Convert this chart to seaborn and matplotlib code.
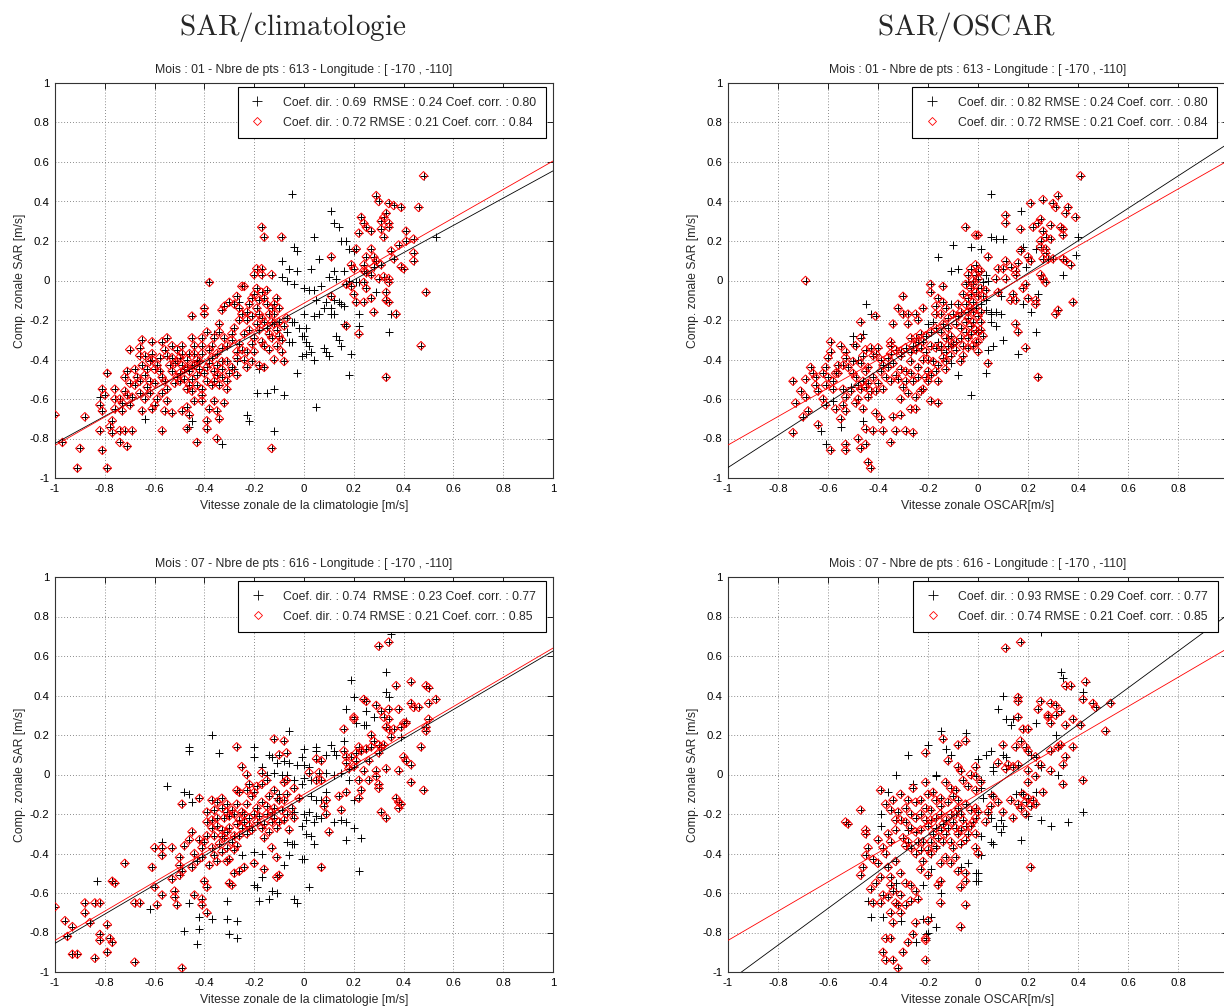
import numpy as np
import pandas as pd
import matplotlib
matplotlib.use("Agg")
import matplotlib.pyplot as plt
from matplotlib.lines import Line2D
import seaborn as sns

sns.set_theme(style="white")
plt.rcParams["font.family"] = ["Liberation Sans", "DejaVu Sans"]
plt.rcParams["axes.unicode_minus"] = False
plt.rcParams["mathtext.fontset"] = "cm"

# ---------------------------------------------------------------------------
# Zonal current comparisons (x: reference product, y: SAR), in m/s.
# "kept" points belong to both series; "rej" points only to the full series.
# ---------------------------------------------------------------------------

# January, climatology
TL_KEPT = [(-1.00,-0.68),(-0.97,-0.82),(-0.88,-0.69),(-0.90,-0.85),(-0.91,-0.95),(-0.79,-0.95),(-0.81,-0.86),(-0.82,-0.76),(-0.81,-0.66),(-0.82,-0.63),(-0.81,-0.55),(-0.79,-0.47),(-0.76,-0.55),(-0.76,-0.65),(-0.77,-0.71),(-0.78,-0.74),(-0.77,-0.77),(-0.74,-0.76),(-0.72,-0.76),(-0.69,-0.76),(-0.74,-0.82),(-0.71,-0.84),(-0.72,-0.56),(-0.71,-0.58),(-0.69,-0.59),(-0.74,-0.60),(-0.73,-0.62),(-0.71,-0.46),(-0.72,-0.49),(-0.70,-0.35),(-0.67,-0.49),(-0.68,-0.53),(-0.66,-0.34),(-0.65,-0.30),(-0.66,-0.38),(-0.64,-0.38),(-0.64,-0.60),(-0.65,-0.66),(-0.63,-0.45),(-0.64,-0.48),(-0.62,-0.51),(-0.60,-0.52),(-0.61,-0.31),(-0.61,-0.37),(-0.61,-0.65),(-0.57,-0.76),(-0.60,-0.63),(-0.59,-0.60),(-0.57,-0.57),(-0.57,-0.31),(-0.55,-0.29),(-0.56,-0.35),(-0.55,-0.38),(-0.54,-0.43),(-0.53,-0.46),(-0.51,-0.49),(-0.50,-0.51),(-0.55,-0.55),(-0.55,-0.61),(-0.56,-0.66),(-0.53,-0.67),(-0.49,-0.33),(-0.49,-0.37),(-0.46,-0.37),(-0.45,-0.29),(-0.44,-0.33),(-0.41,-0.33),(-0.41,-0.37),(-0.43,-0.40),(-0.49,-0.43),(-0.48,-0.45),(-0.46,-0.46),(-0.44,-0.43),(-0.42,-0.45),(-0.50,-0.47),(-0.47,-0.55),(-0.45,-0.56),(-0.43,-0.53),(-0.41,-0.55),(-0.41,-0.58),(-0.49,-0.66),(-0.47,-0.64),(-0.46,-0.68),(-0.44,-0.61),(-0.41,-0.61),(-0.47,-0.75),(-0.43,-0.82),(-0.39,-0.75),(-0.39,-0.71),(-0.38,-0.65),(-0.35,-0.66),(-0.34,-0.70),(-0.35,-0.80),(-0.36,-0.61),(-0.32,-0.62),(-0.39,-0.51),(-0.37,-0.53),(-0.36,-0.51),(-0.33,-0.49),(-0.31,-0.55),(-0.13,-0.85),(-0.18,-0.43),(-0.16,-0.44),(-0.12,-0.40),(-0.08,-0.41),(-0.23,-0.44),(-0.25,-0.35),(-0.23,-0.36),(-0.20,-0.36),(-0.34,-0.22),(-0.34,-0.26),(-0.32,-0.29),(-0.29,-0.27),(-0.29,-0.30),(-0.28,-0.24),(-0.28,-0.12),(-0.26,-0.20),(-0.25,-0.17),(-0.23,-0.16),(-0.23,-0.20),(-0.21,-0.09),(-0.20,-0.07),(-0.19,-0.04),(-0.17,-0.06),(-0.16,-0.09),(-0.15,-0.12),(-0.13,-0.14),(-0.11,-0.09),(-0.12,-0.17),(-0.19,-0.14),(-0.18,-0.17),(-0.17,-0.19),(-0.16,-0.21),(-0.14,-0.17),(-0.13,-0.21),(-0.12,-0.22),(-0.10,-0.21),(-0.08,-0.23),(-0.20,-0.29),(-0.17,-0.31),(-0.16,-0.33),(-0.13,-0.29),(-0.11,-0.33),(-0.09,-0.36),(-0.17,0.27),(-0.16,0.22),(-0.09,0.22),(-0.19,0.06),(-0.17,0.06),(-0.20,0.03),(-0.17,0.03),(-0.13,0.03),(-0.38,-0.01),(-0.25,-0.03),(-0.24,-0.03),(-0.15,-0.05),(-0.27,-0.08),(-0.30,-0.11),(-0.40,-0.14),(-0.40,-0.17),(-0.45,-0.18),(-0.32,-0.13),(-0.33,-0.15),(-0.53,-0.33),(-0.51,-0.35),(-0.47,-0.40),(-0.45,-0.43),(-0.51,-0.41),(-0.53,-0.39),(-0.37,-0.39),(-0.35,-0.43),(-0.33,-0.45),(-0.31,-0.41),(-0.29,-0.44),(-0.27,-0.39),(-0.27,-0.48),(-0.31,-0.51),(-0.36,-0.46),(-0.39,-0.44),(-0.26,-0.32),(-0.24,-0.40),(-0.21,-0.41),(-0.27,-0.36),(-0.39,-0.26),(-0.36,-0.29),(-0.37,-0.33),(-0.33,-0.34),(-0.31,-0.33),(-0.41,-0.29),(-0.59,-0.43),(-0.60,-0.45),(-0.57,-0.49),(-0.65,-0.43),(-0.61,-0.40),
           (-0.22,-0.12),(-0.21,-0.18),(-0.19,-0.22),(-0.18,-0.25),(-0.15,-0.24),(-0.14,-0.27),(-0.11,-0.25),(-0.10,-0.28),(-0.09,-0.30),(-0.12,-0.12),(-0.10,-0.14),(-0.18,-0.10),(-0.22,-0.25),(-0.24,-0.27),(-0.21,-0.32),(-0.14,-0.35),(-0.26,-0.14),(-0.07,-0.19),(-0.52,-0.42),(-0.50,-0.39),(-0.47,-0.44),(-0.45,-0.50),(-0.43,-0.48),(-0.48,-0.50),(-0.52,-0.52),(-0.46,-0.53),(-0.40,-0.47),(-0.38,-0.42),(-0.42,-0.41),(-0.44,-0.37),(-0.38,-0.35),(-0.35,-0.37),(-0.33,-0.41),(-0.35,-0.48),(-0.34,-0.53),(-0.30,-0.47),(-0.68,-0.45),(-0.66,-0.51),(-0.63,-0.54),(-0.70,-0.52),(-0.62,-0.41),(-0.58,-0.39),(-0.58,-0.46),(-0.56,-0.51),(-0.62,-0.57),(-0.66,-0.57),(-0.76,-0.60),(-0.80,-0.58),(-0.73,-0.66),(-0.70,-0.63),
           (0.48,0.53),(0.29,0.43),(0.30,0.40),(0.23,0.32),(0.34,0.39),(0.36,0.38),(0.39,0.37),(0.46,0.37),(0.33,0.34),(0.32,0.32),(0.31,0.30),(0.34,0.29),(0.34,0.27),(0.31,0.26),(0.32,0.22),(0.24,0.29),(0.25,0.27),(0.27,0.25),(0.22,0.24),(0.21,0.16),(0.27,0.16),(0.28,0.12),(0.25,0.12),(0.29,0.10),(0.31,0.08),(0.28,0.07),(0.41,0.25),(0.44,0.21),(0.41,0.20),(0.38,0.18),(0.35,0.15),(0.36,0.11),(0.39,0.07),(0.40,0.06),(0.44,0.14),(0.44,0.10),(0.11,0.12),(0.19,0.08),(0.20,0.06),(0.24,0.08),(0.24,0.05),(0.25,0.04),(0.27,0.03),(0.30,0.01),(0.32,0.02),(0.34,0.01),(0.34,-0.01),(0.24,-0.01),(0.25,-0.04),(0.27,-0.09),(0.24,-0.11),(0.21,-0.11),(0.33,-0.06),(0.33,-0.10),(0.34,-0.11),(0.28,-0.16),(0.17,-0.02),(0.19,-0.03),(0.20,-0.07),(0.11,-0.08),(0.49,-0.06),(0.37,-0.17),(0.17,-0.23),(0.22,-0.27),(0.47,-0.33),(0.33,-0.49)]
TL_REJ = [(-0.82,-0.59),(-0.64,-0.70),(-0.45,-0.71),(-0.46,-0.74),(-0.33,-0.83),(-0.23,-0.68),(-0.22,-0.71),(-0.19,-0.57),(-0.15,-0.57),(-0.12,-0.55),(-0.08,-0.58),(-0.12,-0.76),(-0.03,-0.47),(-0.18,-0.45),(-0.28,-0.45),(-0.27,-0.41),(-0.36,-0.27),(-0.05,0.44),(-0.04,0.17),(-0.03,0.15),(-0.09,0.10),(-0.06,0.06),(-0.03,0.05),(-0.09,0.02),(-0.07,0.00),(-0.04,-0.02),(-0.07,-0.26),(-0.05,-0.21),(-0.04,-0.21),(-0.02,-0.24),(-0.01,-0.28),(-0.06,-0.31),(-0.05,-0.31),(-0.01,-0.38),(-0.26,-0.11),
          (0.11,0.35),(0.12,0.29),(0.14,0.27),(0.04,0.22),(0.15,0.20),(0.17,0.20),(0.18,0.16),(0.20,0.15),(0.06,0.11),(0.03,0.06),(0.12,0.05),(0.13,0.01),(0.10,0.02),(0.16,0.05),(0.18,0.00),(0.21,-0.01),(0.22,-0.01),(0.53,0.22),(0.35,-0.17),(0.29,-0.06),(0.22,-0.17),(0.34,-0.26),(0.22,-0.23),(0.19,-0.37),(0.18,-0.48),(0.05,-0.64),(0.00,-0.04),(0.02,-0.05),(0.04,-0.05),(0.07,-0.03),(0.05,-0.10),(0.08,-0.14),(0.09,-0.11),(0.11,-0.14),(0.12,-0.17),(0.15,-0.12),(0.16,-0.13),(0.11,-0.17),(0.06,-0.17),(0.04,-0.18),(0.00,-0.17),(0.01,-0.24),(0.00,-0.28),(0.01,-0.31),(0.02,-0.33),(0.01,-0.37),(0.03,-0.36),(0.08,-0.34),(0.09,-0.36),(0.10,-0.38),(0.04,-0.40),(0.13,-0.28),(0.14,-0.30),(0.15,-0.33),(0.16,-0.22),(0.14,-0.11),(0.12,-0.10)]

# January, OSCAR
TR_KEPT = [(-0.69,0.00),(-0.05,0.27),(-0.01,0.23),(-0.19,-0.02),(-0.19,-0.06),(-0.14,-0.03),(-0.30,-0.08),(-0.32,-0.14),(-0.30,-0.17),(-0.28,-0.17),(-0.28,-0.22),(-0.25,-0.17),(-0.24,-0.20),(-0.22,-0.14),(-0.17,-0.17),(-0.34,-0.22),(-0.41,-0.18),(-0.47,-0.21),(-0.59,-0.31),(-0.59,-0.36),(-0.55,-0.33),(-0.53,-0.36),(-0.53,-0.39),(-0.54,-0.43),(-0.67,-0.44),(-0.66,-0.47),(-0.65,-0.49),(-0.69,-0.50),(-0.74,-0.51),(-0.71,-0.56),(-0.73,-0.62),(-0.64,-0.56),(-0.69,-0.59),(-0.68,-0.66),(-0.70,-0.69),(-0.64,-0.73),(-0.74,-0.77),(-0.60,-0.39),(-0.61,-0.44),(-0.60,-0.49),(-0.61,-0.53),(-0.62,-0.60),(-0.61,-0.63),(-0.58,-0.51),(-0.57,-0.47),(-0.56,-0.43),(-0.54,-0.55),(-0.54,-0.63),(-0.53,-0.66),(-0.57,-0.65),(-0.55,-0.70),(-0.59,-0.86),(-0.53,-0.83),(-0.53,-0.86),(-0.48,-0.80),(-0.47,-0.85),(-0.45,-0.83),(-0.45,-0.75),(-0.46,-0.65),(-0.44,-0.92),(-0.43,-0.95),(-0.42,-0.76),(-0.41,-0.67),(-0.39,-0.70),(-0.38,-0.76),(-0.35,-0.82),(-0.34,-0.69),(-0.33,-0.76),(-0.31,-0.68),(-0.29,-0.76),(-0.26,-0.77),(-0.27,-0.65),(-0.25,-0.65),(-0.23,-0.56),(-0.25,-0.59),(-0.19,-0.61),(-0.16,-0.62),(-0.31,-0.60),
           (-0.52,-0.44),(-0.50,-0.47),(-0.49,-0.49),(-0.47,-0.42),(-0.45,-0.46),(-0.44,-0.52),(-0.43,-0.56),(-0.41,-0.56),(-0.44,-0.59),(-0.51,-0.56),(-0.48,-0.53),(-0.47,-0.55),(-0.45,-0.54),(-0.53,-0.59),(-0.49,-0.62),(-0.48,-0.60),(-0.49,-0.33),(-0.47,-0.29),(-0.46,-0.38),(-0.45,-0.35),(-0.43,-0.34),(-0.41,-0.37),(-0.40,-0.34),(-0.39,-0.40),(-0.38,-0.43),(-0.36,-0.39),(-0.35,-0.37),(-0.33,-0.35),(-0.31,-0.38),(-0.35,-0.31),(-0.35,-0.33),(-0.39,-0.46),(-0.37,-0.49),(-0.35,-0.51),(-0.33,-0.48),(-0.31,-0.45),(-0.29,-0.46),(-0.29,-0.51),(-0.30,-0.54),(-0.28,-0.57),(-0.26,-0.51),(-0.24,-0.49),(-0.21,-0.49),(-0.20,-0.46),(-0.19,-0.48),(-0.17,-0.46),(-0.16,-0.51),(-0.20,-0.51),(-0.22,-0.55),
           (-0.31,-0.36),(-0.29,-0.34),(-0.27,-0.36),(-0.26,-0.33),(-0.25,-0.35),(-0.23,-0.34),(-0.21,-0.36),(-0.19,-0.33),(-0.17,-0.34),(-0.15,-0.33),(-0.13,-0.36),(-0.12,-0.33),(-0.10,-0.32),(-0.27,-0.29),(-0.25,-0.29),(-0.23,-0.27),(-0.21,-0.28),(-0.19,-0.26),(-0.17,-0.24),(-0.15,-0.26),(-0.13,-0.29),(-0.20,-0.40),(-0.18,-0.41),(-0.16,-0.43),(-0.13,-0.45),(-0.13,-0.41),(-0.11,-0.38),(-0.16,-0.09),(-0.14,-0.11),(-0.13,-0.14),(-0.17,-0.13),(-0.15,-0.17),(-0.12,-0.19),(-0.10,-0.17),(-0.08,-0.18),(-0.07,-0.16),(-0.08,-0.12),(-0.09,-0.22),(-0.07,-0.24),(-0.05,-0.26),(-0.04,-0.29),(-0.03,-0.23),(-0.01,-0.25),(-0.01,-0.31),(-0.04,-0.19),(-0.02,-0.16),(-0.05,-0.12),(-0.03,-0.07),(-0.01,-0.06),(-0.02,-0.02),(-0.01,0.03),(-0.03,0.06),(-0.04,0.03),(-0.01,0.08),(-0.06,-0.38),(-0.07,-0.41),(-0.02,-0.11),(0.00,-0.18),(-0.03,-0.14),(0.01,-0.21),(-0.02,-0.33),(0.00,-0.36),
           (-0.04,-0.09),(-0.03,-0.04),(0.00,-0.08),(-0.02,0.00),(0.00,0.05),(-0.05,-0.02),(-0.06,-0.07),(-0.01,-0.14),(-0.04,-0.16),(-0.02,-0.21),(-0.05,-0.21),(-0.03,-0.27),(0.00,-0.26),(-0.04,-0.34),(-0.07,-0.29),(-0.06,-0.33),(-0.09,-0.31),(-0.12,-0.24),(-0.11,-0.28),(-0.14,-0.22),(-0.44,-0.44),(-0.42,-0.49),(-0.40,-0.52),(-0.42,-0.38),(-0.38,-0.55),(-0.36,-0.44),(-0.34,-0.42),(-0.32,-0.50),(-0.46,-0.51),(-0.50,-0.41),(-0.56,-0.47),(-0.58,-0.55),(-0.62,-0.47),(-0.65,-0.53),(-0.27,-0.41),(-0.24,-0.44),(-0.22,-0.40),(-0.24,-0.31),(-0.22,-0.31),(-0.14,-0.39),(-0.09,-0.35),(-0.27,-0.47),(0.02,-0.08),(0.01,-0.16),(0.02,-0.28),
           (0.41,0.53),(0.32,0.43),(0.21,0.39),(0.26,0.41),(0.30,0.39),(0.31,0.37),(0.36,0.37),(0.35,0.34),(0.39,0.32),(0.25,0.31),(0.24,0.29),(0.22,0.27),(0.29,0.28),(0.33,0.27),(0.34,0.26),(0.34,0.23),(0.26,0.25),(0.27,0.22),(0.29,0.21),(0.11,0.33),(0.11,0.29),(0.17,0.26),(0.00,0.23),(0.25,0.20),(0.25,0.17),(0.27,0.16),(0.27,0.14),(0.28,0.11),(0.26,0.11),(0.30,0.11),(0.34,0.11),(0.35,0.10),(0.37,0.08),(0.20,0.12),(0.21,0.10),(0.17,0.15),(0.16,0.09),(0.13,0.07),(0.11,0.10),(0.10,0.06),(0.04,0.12),(0.08,0.06),(0.07,0.01),(0.11,0.01),(0.15,0.03),(0.15,0.05),(0.25,0.03),(0.26,0.01),(0.27,-0.01),(0.19,-0.02),(0.18,-0.04),(0.08,-0.06),(0.14,-0.07),(0.13,-0.10),(0.15,-0.10),(0.20,-0.09),(0.23,-0.10),(0.23,-0.12),(0.38,-0.11),(0.31,-0.17),(0.32,-0.15),(0.15,-0.22),(0.16,-0.26),(0.19,-0.34),(0.04,-0.42),(0.24,-0.49),(0.01,0.05),(0.00,0.01),(0.01,-0.04),(0.03,-0.05),(0.01,-0.25),(0.00,-0.31)]
TR_REJ = [(-0.10,0.18),(-0.03,0.17),(-0.16,0.12),(-0.11,0.05),(-0.08,0.06),(-0.04,-0.01),(-0.11,-0.12),(-0.45,-0.12),(-0.43,-0.17),(-0.50,-0.28),(-0.46,-0.27),(-0.50,-0.32),(-0.48,-0.40),(-0.57,-0.46),(-0.51,-0.54),(-0.58,-0.61),(-0.63,-0.76),(-0.61,-0.83),(-0.55,-0.74),(-0.46,-0.71),(-0.08,-0.48),(-0.03,-0.58),(-0.11,-0.42),(-0.16,-0.31),(-0.15,-0.35),(-0.20,-0.22),(-0.18,-0.21),(-0.12,-0.29),(-0.11,-0.33),
          (0.05,0.44),(0.17,0.35),(0.05,0.22),(0.07,0.21),(0.10,0.21),(0.01,0.16),(0.18,0.17),(0.17,0.16),(0.23,0.16),(0.40,0.22),(0.39,0.13),(0.19,0.07),(0.03,0.03),(0.04,0.00),(0.02,-0.01),(0.00,-0.04),(0.09,-0.08),(0.18,-0.12),(0.24,-0.07),(0.21,-0.16),(0.34,0.03),(0.05,-0.16),(0.07,-0.16),(0.09,-0.17),(0.05,-0.17),(0.03,-0.15),(0.05,-0.21),(0.07,-0.23),(0.23,-0.26),(0.10,-0.30),(0.06,-0.33),(0.04,-0.35),(0.16,-0.37),(0.03,-0.47),(0.01,-0.12),(0.03,-0.10)]

# July, climatology
BL_KEPT = [(-1.00,-0.67),(-0.96,-0.74),(-0.95,-0.82),(-0.93,-0.77),(-0.93,-0.91),(-0.91,-0.91),(-0.88,-0.65),(-0.88,-0.70),(-0.86,-0.75),(-0.84,-0.65),(-0.82,-0.65),(-0.84,-0.93),(-0.82,-0.81),(-0.82,-0.84),(-0.79,-0.76),(-0.78,-0.83),(-0.77,-0.85),(-0.79,-0.90),(-0.77,-0.54),(-0.76,-0.55),(-0.72,-0.45),(-0.68,-0.95),(-0.68,-0.65),(-0.66,-0.65),(-0.61,-0.47),(-0.60,-0.37),(-0.60,-0.57),(-0.59,-0.66),(-0.57,-0.37),(-0.57,-0.41),(-0.57,-0.61),(-0.53,-0.37),(-0.53,-0.53),(-0.52,-0.59),(-0.52,-0.62),(-0.51,-0.66),(-0.50,-0.42),(-0.50,-0.46),(-0.49,-0.49),(-0.50,-0.51),(-0.49,-0.15),(-0.49,-0.98),(-0.48,-0.36),(-0.46,-0.33),(-0.45,-0.29),(-0.44,-0.61),(-0.41,-0.63),(-0.41,-0.66),(-0.39,-0.70),(-0.42,-0.12),(-0.40,-0.54),(-0.39,-0.57),
           (-0.44,-0.40),(-0.43,-0.44),(-0.45,-0.47),(-0.41,-0.37),(-0.40,-0.34),(-0.39,-0.31),(-0.37,-0.27),(-0.36,-0.31),(-0.37,-0.37),(-0.36,-0.41),(-0.39,-0.19),(-0.39,-0.24),(-0.37,-0.23),(-0.35,-0.26),(-0.33,-0.28),(-0.32,-0.32),(-0.34,-0.35),(-0.33,-0.39),(-0.31,-0.37),(-0.29,-0.34),(-0.28,-0.31),(-0.27,-0.36),(-0.30,-0.43),(-0.31,-0.44),(-0.37,-0.13),(-0.35,-0.14),(-0.33,-0.17),(-0.33,-0.12),(-0.31,-0.15),(-0.29,-0.18),(-0.27,-0.15),(-0.28,-0.20),(-0.26,-0.23),(-0.25,-0.19),(-0.27,-0.08),(-0.26,-0.09),(-0.23,-0.08),(-0.21,-0.11),(-0.20,-0.09),(-0.23,-0.15),(-0.24,-0.20),(-0.22,-0.22),(-0.20,-0.20),(-0.19,-0.24),(-0.17,-0.27),(-0.21,-0.28),(-0.23,-0.30),
           (-0.25,0.04),(-0.23,0.00),(-0.22,-0.05),(-0.17,0.01),(-0.17,-0.05),(-0.12,0.18),(-0.08,0.17),(-0.07,0.11),(-0.10,0.10),(-0.08,-0.04),(-0.07,-0.10),(-0.08,-0.13),(-0.09,-0.18),(-0.12,-0.17),(-0.15,-0.20),(-0.13,-0.24),(-0.11,-0.27),(-0.14,-0.29),(-0.16,-0.32),(-0.08,-0.23),(-0.07,-0.20),(-0.27,0.14),(-0.16,-0.48),(-0.20,-0.45),(-0.24,-0.47),(-0.26,-0.49),(-0.28,-0.50),(-0.30,-0.55),(-0.29,-0.56),(-0.11,-0.52),(-0.10,-0.51),(-0.13,-0.37),(-0.11,-0.42),(-0.07,-0.03),(-0.04,-0.07),(-0.02,-0.12),
           (-0.30,-0.21),(-0.30,-0.27),(-0.27,-0.25),(-0.25,-0.27),(-0.24,-0.24),(-0.22,-0.26),(-0.19,-0.17),(-0.17,-0.14),(-0.15,-0.16),(-0.13,-0.19),(-0.12,-0.22),(-0.10,-0.24),(-0.18,-0.21),(-0.16,-0.25),(-0.14,-0.11),(-0.12,-0.08),(-0.10,-0.13),(-0.19,-0.06),(-0.15,-0.03),(-0.05,-0.17),(-0.04,-0.22),(-0.06,-0.28),(-0.42,-0.33),(-0.41,-0.42),(-0.38,-0.46),(-0.35,-0.44),(-0.33,-0.31),(-0.31,-0.29),(-0.35,-0.22),(-0.32,-0.22),(-0.36,-0.18),(-0.31,-0.19),(-0.26,-0.31),(-0.28,-0.38),
           (0.30,0.65),(0.34,0.67),(0.37,0.45),(0.43,0.47),(0.49,0.45),(0.50,0.44),(0.53,0.38),(0.24,0.38),(0.25,0.37),(0.29,0.35),(0.31,0.32),(0.34,0.33),(0.38,0.33),(0.43,0.36),(0.44,0.34),(0.46,0.34),(0.50,0.36),(0.20,0.29),(0.20,0.28),(0.16,0.23),(0.32,0.29),(0.34,0.28),(0.33,0.24),(0.34,0.23),(0.39,0.24),(0.40,0.26),(0.41,0.26),(0.50,0.28),(0.49,0.24),(0.49,0.22),(0.47,0.14),(0.28,0.17),(0.30,0.15),(0.31,0.14),(0.32,0.15),(0.30,0.11),(0.27,0.14),(0.25,0.13),(0.23,0.12),(0.22,0.14),(0.21,0.11),(0.05,0.08),(0.07,0.07),(0.05,-0.03),(0.07,-0.03),(0.17,0.09),(0.17,0.06),(0.18,0.03),(0.21,0.07),(0.20,0.04),(0.29,0.02),(0.29,-0.01),(0.26,-0.03),(0.30,-0.05),(0.30,-0.07),(0.22,-0.03),(0.23,-0.08),(0.22,-0.12),(0.40,0.09),(0.41,0.07),(0.43,0.05),(0.38,0.02),(0.43,-0.04),(0.48,-0.08),(0.37,-0.12),(0.38,-0.14),(0.39,-0.15),(0.38,-0.17),(0.31,-0.19),(0.33,-0.22),(0.17,-0.09),(0.14,-0.11),(0.09,-0.13),(0.08,-0.16),(0.09,-0.20),(0.10,-0.29),(0.15,-0.18),(0.07,-0.47),(0.06,0.01),(0.02,0.01),
           (0.16,0.12),(0.19,0.09),(0.26,0.07),(0.24,0.02),(0.33,0.03),(0.35,0.19),(0.27,0.20),(0.36,0.23)]
BL_REJ = [(-0.83,-0.54),(-0.62,-0.68),(-0.57,-0.34),(-0.55,-0.06),(-0.48,-0.09),(-0.46,-0.10),(-0.45,-0.14),(-0.46,0.14),(-0.46,0.12),(-0.37,0.20),(-0.34,0.11),(-0.48,-0.79),(-0.43,-0.86),(-0.42,-0.72),(-0.42,-0.78),(-0.46,-0.65),(-0.37,-0.73),(-0.31,-0.73),(-0.31,-0.64),(-0.30,-0.81),(-0.27,-0.74),(-0.27,-0.83),(-0.25,-0.41),(-0.20,-0.56),(-0.19,-0.57),(-0.18,-0.64),(-0.17,-0.52),(-0.14,-0.63),(-0.13,-0.59),(-0.11,-0.60),(-0.04,-0.63),(-0.03,-0.65),(-0.08,-0.46),(-0.06,-0.41),(-0.04,-0.35),(-0.01,-0.43),(-0.01,-0.26),(-0.06,0.22),(-0.20,0.14),(-0.20,0.09),(-0.14,0.10),(-0.13,0.09),(-0.17,0.04),(-0.15,0.00),(-0.11,0.06),(-0.12,0.01),(-0.09,0.00),(-0.07,0.00),(-0.08,0.07),(-0.06,0.06),(-0.03,0.05),(-0.01,0.09),(-0.04,-0.03),(-0.01,-0.05),(-0.11,-0.12),(-0.10,-0.10),(-0.05,-0.20),(-0.04,-0.19),(-0.20,-0.39),(-0.17,-0.40),(-0.07,-0.34),(-0.05,-0.35),
          (0.35,0.71),(0.33,0.52),(0.19,0.48),(0.20,0.39),(0.33,0.42),(0.34,0.39),(0.17,0.33),(0.25,0.32),(0.28,0.29),(0.21,0.26),(0.24,0.25),(0.25,0.25),(0.16,0.17),(0.11,0.15),(0.12,0.12),(0.05,0.14),(0.05,0.12),(0.09,0.10),(0.13,0.10),(0.00,0.13),(0.00,0.05),(0.02,0.04),(0.00,-0.02),(0.03,-0.03),(0.09,0.01),(0.12,0.00),(0.15,0.01),(0.18,-0.03),(0.09,-0.09),(0.07,-0.13),(0.05,-0.13),(0.03,-0.11),(0.20,-0.13),(0.02,-0.19),(0.00,-0.20),(0.01,-0.23),(0.04,-0.24),(0.05,-0.21),(0.07,-0.22),(0.12,-0.24),(0.15,-0.23),(0.17,-0.24),(0.20,-0.27),(0.23,-0.32),(0.17,-0.33),(0.03,-0.31),(0.04,-0.35),(0.01,-0.30),(0.00,-0.43),(0.22,-0.49),(0.02,-0.57),(0.39,0.19),(0.41,0.27)]

# July, OSCAR
BR_KEPT = [(-0.53,-0.24),(-0.52,-0.25),(-0.47,-0.18),(-0.45,-0.28),(-0.45,-0.30),(-0.44,-0.37),(-0.45,-0.41),(-0.46,-0.47),(-0.47,-0.51),(-0.43,-0.58),(-0.42,-0.65),(-0.40,-0.33),(-0.42,-0.43),(-0.39,-0.08),(-0.37,-0.15),(-0.35,-0.18),(-0.33,-0.23),(-0.36,-0.30),(-0.35,-0.34),(-0.38,-0.37),(-0.37,-0.40),(-0.39,-0.52),(-0.38,-0.61),(-0.39,-0.65),(-0.35,-0.52),(-0.35,-0.56),(-0.34,-0.59),(-0.35,-0.70),(-0.34,-0.75),(-0.33,-0.65),(-0.32,-0.66),(-0.37,-0.83),(-0.35,-0.83),(-0.38,-0.90),(-0.37,-0.94),(-0.34,-0.94),(-0.32,-0.98),(-0.30,-0.90),(-0.28,-0.85),(-0.26,-0.81),(-0.25,-0.75),(-0.21,-0.83),(-0.21,-0.84),(-0.21,-0.94),(-0.20,-0.74),(-0.31,-0.61),(-0.29,-0.66),(-0.27,-0.56),(-0.25,-0.59),(-0.24,-0.63),(-0.27,-0.64),(-0.20,-0.51),(-0.16,-0.56),(-0.15,-0.65),(-0.15,-0.54),(-0.07,-0.77),(-0.05,-0.66),(-0.07,-0.57),(-0.05,-0.54),(-0.05,-0.50),(-0.08,-0.49),
           (-0.30,-0.32),(-0.28,-0.34),(-0.27,-0.37),(-0.25,-0.40),(-0.23,-0.38),(-0.22,-0.34),(-0.20,-0.38),(-0.19,-0.40),(-0.17,-0.37),(-0.31,-0.10),(-0.28,-0.13),(-0.26,-0.07),(-0.23,-0.13),(-0.21,-0.04),(-0.20,-0.10),(-0.18,-0.09),(-0.17,-0.13),(-0.15,-0.12),(-0.31,-0.23),(-0.29,-0.24),(-0.27,-0.27),(-0.25,-0.29),(-0.23,-0.28),(-0.21,-0.23),(-0.20,-0.26),(-0.18,-0.30),(-0.16,-0.32),(-0.15,-0.28),(-0.13,-0.30),(-0.11,-0.34),(-0.09,-0.27),(-0.08,-0.30),(-0.07,-0.28),(-0.05,-0.33),(-0.04,-0.30),(-0.03,-0.26),(-0.01,-0.30),(-0.19,-0.18),(-0.17,-0.22),(-0.15,-0.20),(-0.13,-0.23),(-0.11,-0.20),(-0.08,-0.17),(-0.07,-0.20),(-0.05,-0.15),(-0.03,-0.18),(-0.01,-0.17),(-0.01,-0.22),(-0.21,0.11),(-0.14,0.18),(-0.08,0.15),(-0.05,0.17),(-0.12,0.07),(-0.08,0.04),(-0.07,0.02),(-0.03,0.00),(-0.01,0.04),(-0.13,-0.04),(-0.11,-0.07),(-0.09,-0.08),(-0.06,-0.03),(-0.04,-0.06),(-0.01,-0.08),(-0.15,-0.45),(-0.13,-0.42),(-0.11,-0.45),(-0.09,-0.42),
           (-0.29,-0.17),(-0.27,-0.20),(-0.25,-0.22),(-0.23,-0.20),(-0.21,-0.17),(-0.19,-0.23),(-0.17,-0.27),(-0.14,-0.25),(-0.12,-0.27),(-0.10,-0.24),(-0.09,-0.20),(-0.06,-0.23),(-0.05,-0.26),(-0.02,-0.24),(-0.12,-0.14),(-0.10,-0.11),(-0.08,-0.13),(-0.15,-0.16),(-0.25,-0.14),(-0.33,-0.28),(-0.32,-0.19),(-0.34,-0.13),(-0.29,-0.36),(-0.24,-0.34),(-0.19,-0.34),(-0.14,-0.34),(-0.10,-0.37),(-0.07,-0.35),(-0.36,-0.47),(-0.33,-0.44),(-0.31,-0.50),(-0.29,-0.55),(-0.36,-0.62),(-0.31,-0.70),(-0.41,-0.55),(-0.40,-0.45),(-0.23,-0.48),(-0.22,-0.44),(0.06,-0.11),(0.08,-0.14),(0.10,-0.19),(0.03,-0.24),
           (0.11,0.64),(0.17,0.67),(0.16,0.39),(0.16,0.37),(0.25,0.37),(0.24,0.33),(0.29,0.36),(0.31,0.35),(0.33,0.32),(0.31,0.30),(0.28,0.29),(0.29,0.26),(0.28,0.30),(0.35,0.25),(0.35,0.45),(0.37,0.45),(0.43,0.47),(0.42,0.38),(0.46,0.36),(0.47,0.34),(0.53,0.36),(0.38,0.28),(0.41,0.25),(0.51,0.22),(0.16,0.29),(0.18,0.23),(0.20,0.23),(0.10,0.15),(0.17,0.17),(0.19,0.14),(0.20,0.12),(0.15,0.14),(0.33,0.15),(0.32,0.14),(0.29,0.12),(0.35,0.09),(0.34,0.05),(0.38,0.14),(0.23,0.09),(0.25,0.05),(0.29,0.02),(0.08,0.06),(0.12,0.05),(0.11,0.03),(0.14,0.04),(0.16,0.05),(0.20,0.02),(0.23,-0.01),(0.20,-0.04),(0.34,-0.05),(0.42,-0.03),(0.13,-0.13),(0.16,-0.15),(0.17,-0.17),(0.18,-0.10),(0.20,-0.12),(0.22,-0.13),(0.23,-0.15),(0.21,-0.16),(0.19,-0.14),(0.26,-0.09),(0.14,-0.22),(0.19,-0.20),(0.05,-0.16),(0.04,-0.19),(0.00,-0.19),(-0.01,-0.37),(0.00,-0.40),(0.21,-0.47),(-0.01,-0.01),(0.01,-0.04)]
BR_REJ = [(-0.15,0.22),(-0.05,0.21),(-0.20,0.15),(-0.13,0.13),(-0.11,0.10),(-0.28,0.10),(-0.33,0.00),(-0.17,0.00),(-0.17,-0.01),(-0.26,-0.05),(-0.36,-0.09),(-0.39,-0.20),(-0.39,-0.26),(-0.44,-0.64),(-0.43,-0.72),(-0.38,-0.72),(-0.33,-0.55),(-0.33,-0.59),(-0.31,-0.74),(-0.22,-0.56),(-0.19,-0.48),(-0.22,-0.73),(-0.19,-0.72),(-0.17,-0.77),(-0.25,-0.85),(-0.21,-0.81),(-0.20,-0.80),(-0.15,-0.60),(-0.07,-0.47),(-0.04,-0.45),(-0.01,-0.50),(-0.01,-0.54),(-0.28,-0.28),(-0.17,-0.36),
          (0.25,0.72),(0.33,0.52),(0.34,0.49),(0.42,0.42),(0.10,0.40),(0.08,0.33),(0.11,0.28),(0.13,0.25),(0.14,0.28),(0.23,0.26),(0.31,0.20),(0.05,0.12),(0.03,0.10),(0.00,0.08),(0.10,0.10),(0.11,0.09),(0.06,0.04),(0.06,0.02),(0.21,0.10),(0.24,0.05),(0.25,0.04),(0.32,0.00),(0.15,-0.10),(0.17,-0.09),(0.23,-0.09),(0.01,-0.03),(0.01,-0.07),(0.05,-0.10),(0.02,-0.12),(0.04,-0.20),(0.05,-0.22),(0.09,-0.23),(0.07,-0.26),(0.10,-0.26),(0.09,-0.29),(0.20,-0.21),(0.25,-0.23),(0.29,-0.26),(0.36,-0.24),(0.42,-0.19),(0.17,-0.33),(0.01,-0.31),(0.05,-0.34),(0.06,-0.35),(0.01,-0.41),(0.00,-0.50),(0.00,-0.54)]

# Linear fits: (slope, intercept) for all points and for the kept subset
FIT_ALL  = {"TL": (0.69, -0.135), "TR": (0.82, -0.127), "BL": (0.74, -0.115), "BR": (0.93, -0.120)}
FIT_KEPT = {"TL": (0.72, -0.115), "TR": (0.72, -0.113), "BL": (0.74, -0.100), "BR": (0.74, -0.100)}
# Statistics shown in the legends: (RMSE, correlation)
STATS_ALL  = {"TL": (0.24, 0.80), "TR": (0.24, 0.80), "BL": (0.23, 0.77), "BR": (0.29, 0.77)}
STATS_KEPT = {"TL": (0.21, 0.84), "TR": (0.21, 0.84), "BL": (0.21, 0.85), "BR": (0.21, 0.85)}

MONTHS = {"TL": ("01", 613), "TR": ("01", 613), "BL": ("07", 616), "BR": ("07", 616)}
XLABELS = {"TL": "Vitesse zonale de la climatologie [m/s]", "BL": "Vitesse zonale de la climatologie [m/s]",
           "TR": "Vitesse zonale OSCAR[m/s]", "BR": "Vitesse zonale OSCAR[m/s]"}
YLABEL = "Comp. zonale SAR [m/s]"
TICKS = [-1, -0.8, -0.6, -0.4, -0.2, 0, 0.2, 0.4, 0.6, 0.8, 1]
TICKLABELS = ["-1", "-0.8", "-0.6", "-0.4", "-0.2", "0", "0.2", "0.4", "0.6", "0.8", "1"]
DATA = {"TL": (TL_KEPT, TL_REJ), "TR": (TR_KEPT, TR_REJ), "BL": (BL_KEPT, BL_REJ), "BR": (BR_KEPT, BR_REJ)}

W, H = 1224, 1008
fig = plt.figure(figsize=(W / 100, H / 100), dpi=100)
fig.patch.set_facecolor("white")

# axes boxes in pixels: left, top, width, height
BOXES = {"TL": (55, 83, 498, 395), "TR": (728, 83, 500, 395),
         "BL": (55, 577, 498, 395), "BR": (728, 577, 500, 395)}
LEG_ANCHOR = {"TL": (0.986, 0.99), "BL": (0.986, 0.99), "TR": (0.978, 0.99), "BR": (0.98, 0.99)}
TXT = 8.8

for key, (l, t, w, h) in BOXES.items():
    ax = fig.add_axes([l / W, 1 - (t + h) / H, w / W, h / H])
    kept, rej = DATA[key]
    all_pts = pd.DataFrame(kept + rej, columns=["x", "y"])
    kept_pts = pd.DataFrame(kept, columns=["x", "y"])

    sns.scatterplot(data=all_pts, x="x", y="y", ax=ax, marker="+", color="black",
                    s=40, linewidth=0.7, legend=False, zorder=3)
    sns.scatterplot(data=kept_pts, x="x", y="y", ax=ax, marker="D", color="red",
                    facecolor="none", edgecolor="red", s=19, linewidth=0.7,
                    legend=False, zorder=4)

    xs = np.array([-1.0, 1.0])
    a, b = FIT_ALL[key]
    sns.lineplot(x=xs, y=a * xs + b, ax=ax, color="black", linewidth=0.6,
                 estimator=None, zorder=5)
    a2, b2 = FIT_KEPT[key]
    sns.lineplot(x=xs, y=a2 * xs + b2, ax=ax, color="red", linewidth=0.6,
                 estimator=None, zorder=5)

    ax.set_xlim(-1, 1)
    ax.set_ylim(-1, 1)
    xlabels = list(TICKLABELS)
    if key in ("TR", "BR"):
        xlabels[-1] = ""  # the right-most label falls outside the figure
    ax.set_xticks(TICKS)
    ax.set_xticklabels(xlabels)
    ax.set_yticks(TICKS)
    ax.set_yticklabels(TICKLABELS)
    ax.tick_params(direction="in", top=True, right=True, length=4, width=0.6,
                   labelsize=8.2, pad=4, colors="black")
    ax.grid(True, linestyle=(0, (1, 2.5)), color="#666666", linewidth=0.6)
    for sp in ax.spines.values():
        sp.set_color("#333333")
        sp.set_linewidth(0.8)
    ax.set_facecolor("white")

    month, npts = MONTHS[key]
    ax.set_title(f"Mois : {month} - Nbre de pts : {npts} - Longitude : [ -170 , -110]",
                 fontsize=TXT, pad=7)
    ax.set_xlabel(XLABELS[key], fontsize=TXT, labelpad=5)
    ax.set_ylabel(YLABEL, fontsize=TXT, labelpad=3)

    gap = "  " if key in ("TL", "BL") else " "
    r1, c1 = STATS_ALL[key]
    r2, c2 = STATS_KEPT[key]
    labels = [f"Coef. dir. : {a:.2f}{gap}RMSE : {r1:.2f} Coef. corr. : {c1:.2f}",
              f"Coef. dir. : {a2:.2f} RMSE : {r2:.2f} Coef. corr. : {c2:.2f}"]
    handles = [Line2D([], [], linestyle="none", marker="+", color="black",
                      markersize=7, markeredgewidth=0.6),
               Line2D([], [], linestyle="none", marker="D", markerfacecolor="none",
                      markeredgecolor="red", markersize=4.5, markeredgewidth=0.6)]
    leg = ax.legend(handles, labels, loc="upper right", bbox_to_anchor=LEG_ANCHOR[key],
                    fontsize=TXT, frameon=True, fancybox=False, framealpha=1,
                    edgecolor="black", borderpad=0.8, handlelength=1.6,
                    handletextpad=1.3, labelspacing=0.65, borderaxespad=0)
    leg.get_frame().set_linewidth(0.8)
    leg.set_zorder(10)

fig.text(293 / W, 1 - 27 / H, r"$\mathrm{SAR/climatologie}$", fontsize=21,
         ha="center", va="center")
fig.text(967 / W, 1 - 27 / H, r"$\mathrm{SAR/OSCAR}$", fontsize=21,
         ha="center", va="center")

fig.savefig("out.png", dpi=100, facecolor="white")
